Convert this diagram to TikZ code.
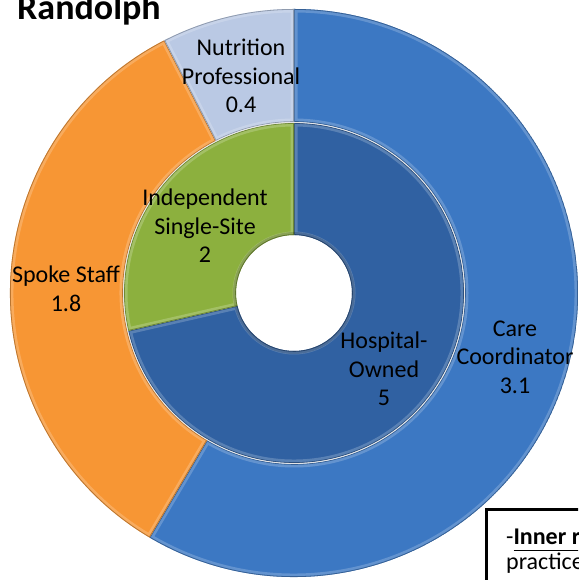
\documentclass[tikz,border=0pt]{standalone}
\usepackage{fontspec}
\setmainfont{Carlito}
\usetikzlibrary{calc}
\definecolor{careblue}{RGB}{60,120,195}
\definecolor{hospblue}{RGB}{48,97,162}
\definecolor{spokeorange}{RGB}{247,150,52}
\definecolor{indgreen}{RGB}{140,176,62}
\definecolor{nutriblue}{RGB}{186,201,228}
\tikzset{
  lbl/.style={align=center, inner sep=0pt, font=\fontsize{24}{28.5}\selectfont, text=black},
  ttl/.style={anchor=base west, inner sep=0pt, font=\fontsize{36}{40}\selectfont\bfseries},
  boxtxt/.style={anchor=base west, inner sep=0pt, font=\fontsize{24}{26}\selectfont}
}
% ring segment: colour, inner radius, outer radius, start angle, end angle
\newcommand\ringseg[5]{%
\begin{scope}
\clip ($(C)+(#4:#3pt)$) arc[start angle=#4,end angle=#5,radius=#3pt] -- ($(C)+(#5:#2pt)$) arc[start angle=#5,end angle=#4,radius=#2pt] -- cycle;
\fill[#1] (C) circle[radius=#3pt];
\draw[#1!55!white, line width=7pt, opacity=.45] ($(C)+(#4:#3pt)$) arc[start angle=#4,end angle=#5,radius=#3pt] -- ($(C)+(#5:#2pt)$) arc[start angle=#5,end angle=#4,radius=#2pt] -- cycle;
\draw[#1!70!black, line width=1.6pt, opacity=.8] ($(C)+(#4:#3pt)$) arc[start angle=#4,end angle=#5,radius=#3pt] -- ($(C)+(#5:#2pt)$) arc[start angle=#5,end angle=#4,radius=#2pt] -- cycle;
\end{scope}}
\begin{document}
\begin{tikzpicture}[x=1pt,y=1pt]
\useasboundingbox (0,0) rectangle (578,580);
\clip (0,0) rectangle (578,580);
\fill[white] (0,0) rectangle (578,580);
\coordinate (C) at (294,287);
% outer ring
\ringseg{careblue}{171}{284}{239.434}{450}
\ringseg{spokeorange}{171}{284}{117.170}{239.434}
\ringseg{nutriblue}{171}{284}{90}{117.170}
% inner ring
\ringseg{hospblue}{58}{170}{192.857}{450}
\ringseg{indgreen}{58}{170}{90}{192.857}
% separator between rings
\draw[white!80!gray, line width=0.8pt] (C) circle[radius=170.5pt];
% hole shadow
\draw[black, opacity=.15, line width=3pt] (C) circle[radius=59.5pt];
% labels
\node[lbl] (nutri) at (241,504) {Nutrition\\Professional\\0.4};
\node[lbl] (indep) at (205,354) {Independent\\Single-Site\\2};
\node[lbl] (spoke) at (66,291) {Spoke Staff\\1.8};
\node[lbl] (hosp) at (384,211) {Hospital-\\Owned\\5};
\node[lbl] (care) at (515,223) {Care\\Coordinator\\3.1};
% title
\node[ttl] (title) at (17,560) {Randolph};
% legend box (cut by the page edge)
\draw[black, line width=3pt] (486,70) rectangle (640,-40);
\node[boxtxt] (note1) at (506,35) {-\underline{\textbf{Inner ring}}};
\node[boxtxt] (note2) at (506,10) {practices};
\end{tikzpicture}
\end{document}
